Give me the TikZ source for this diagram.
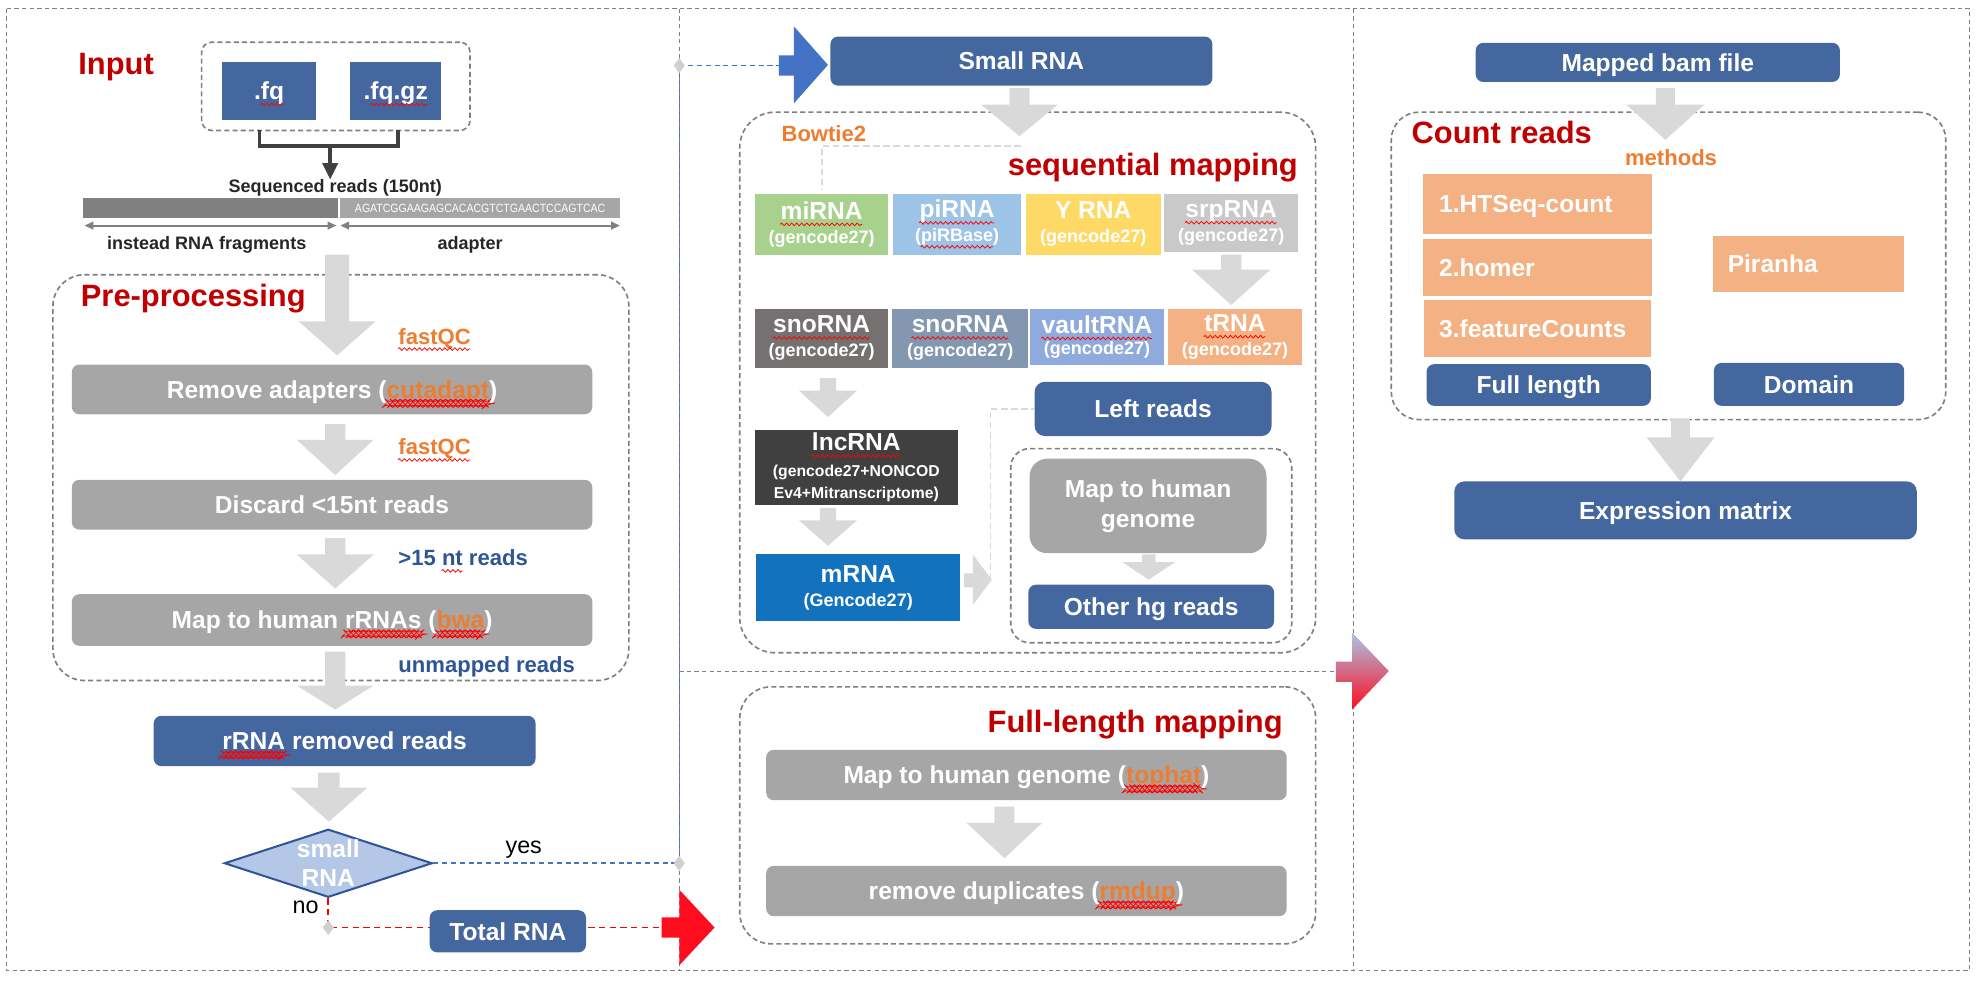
\documentclass[tikz,border=0pt]{standalone}
\usepackage{fontspec}
\setmainfont{Liberation Sans}
\usepackage{graphicx}
\usetikzlibrary{shapes.geometric,arrows.meta,decorations.pathmorphing}
\definecolor{cblue}{HTML}{44679F}
\definecolor{cgray}{HTML}{A6A6A6}
\definecolor{carrow}{HTML}{D9D9D9}
\definecolor{cframe}{HTML}{7F7F7F}
\definecolor{cred}{HTML}{C00000}
\definecolor{corange}{HTML}{ED7D31}
\definecolor{cdblue}{HTML}{2F5597}
\definecolor{cmi}{HTML}{A9D18E}
\definecolor{cpi}{HTML}{9DC3E6}
\definecolor{cy}{HTML}{FFD966}
\definecolor{csrp}{HTML}{C9C9C9}
\definecolor{csno}{HTML}{767171}
\definecolor{csnob}{HTML}{8497B0}
\definecolor{cvault}{HTML}{8FAADC}
\definecolor{ct}{HTML}{F4B183}
\definecolor{clnc}{HTML}{404040}
\definecolor{cm}{HTML}{1372BE}
\definecolor{cdiam}{HTML}{B4C7E7}
\definecolor{cbluearrow}{HTML}{4472C4}
\definecolor{credarrow}{HTML}{FF0D1F}
\definecolor{cgtop}{HTML}{A9C4E8}
\definecolor{cjoint}{HTML}{D0D0D0}
\definecolor{cdark}{HTML}{262626}
\definecolor{cbar1}{HTML}{808080}
\definecolor{cbar2}{HTML}{A6A6A6}
\definecolor{cbrack}{HTML}{404040}
\newcommand\fBox{\fontsize{19.5}{22}\selectfont\bfseries}
\newcommand\fSub{\fontsize{14.3}{16}\selectfont\bfseries}
\newcommand\fLnc{\fontsize{12.5}{14}\selectfont\bfseries}
\newcommand\fTtl{\fontsize{24.5}{28}\selectfont\bfseries}
\newcommand\fAnn{\fontsize{17.5}{20}\selectfont\bfseries}
\newcommand\fLbl{\fontsize{14.3}{16}\selectfont\bfseries}
\newcommand\fYes{\fontsize{18.5}{20}\selectfont}
\newsavebox\sqbox
\newlength\sqlen
\newcommand\sqw[1]{\sbox\sqbox{#1}\setlength\sqlen{\wd\sqbox}\usebox\sqbox\llap{\raisebox{-4pt}{\tikz[x=1pt,y=1pt,baseline=0pt]\draw[red,line width=0.6pt,line join=round,decorate,decoration={zigzag,amplitude=1.1pt,segment length=4pt}] (0,0) -- (\sqlen,0);}}}
\newcommand\org[1]{\textcolor{corange}{\sqw{#1}}}
\newcommand\darr[6]{\fill[carrow] ({#1-#5/2},#2) -- ({#1+#5/2},#2) -- ({#1+#5/2},#3) -- ({#1+#6/2},#3) -- (#1,#4) -- ({#1-#6/2},#3) -- ({#1-#5/2},#3) -- cycle;}
\begin{document}
\begin{tikzpicture}[x=1pt,y=-1pt,
  bx/.style={inner sep=0pt, text=white, font=\fBox, align=center},
  oneline/.style={text height=14pt, text depth=0pt},
  bluebox/.style={bx, oneline, fill=cblue, rounded corners=6pt},
  graybox/.style={bx, oneline, fill=cgray, rounded corners=6pt},
  sqb/.style={bx, fill=#1},
  dframe/.style={draw=cframe, dash pattern=on 4pt off 2.5pt, line width=1.3pt, rounded corners=#1, inner sep=0pt},
  outerframe/.style={draw=cframe, dash pattern=on 3.5pt off 2.5pt, line width=1pt},
  ttl/.style={text=cred, font=\fTtl, inner sep=0pt},
  ann/.style={font=\fAnn, inner sep=0pt},
  joint/.style={diamond, fill=cjoint, inner sep=0pt, minimum width=9pt, minimum height=12pt},
  lightdash/.style={draw=carrow, line width=1.5pt, dash pattern=on 5pt off 3pt},
  lbl/.style={font=\fLbl, text=cdark, inner sep=0pt, anchor=base},
  leftbox/.style={bx, oneline, fill=ct, align=left},
  bluedash/.style={cbluearrow, line width=1.3pt, dash pattern=on 4pt off 3pt},
]
\useasboundingbox (0,0) rectangle (1568,784);
% hidden part of the "yes" connector, under the divider
\coordinate (barr) at (618,52);
\coordinate (vj1) at (539,685);
\coordinate (vj3) at (539,52);
\draw[cbluearrow, line width=1pt, dash pattern=on 3.5pt off 2.5pt] (vj1) -- (vj3);
% frames
\draw[outerframe] (5,7) rectangle (1563,770);
\draw[outerframe] (539,7) -- (539,770);
\draw[outerframe] (1074,7) -- (1074,770);
\draw[outerframe] (539,533) -- (1074,533);

% ---------------- left panel
\node[ttl, anchor=base west] (tin) at (62,59.5) {Input};
\node[dframe=8pt, minimum width=213pt, minimum height=70pt] (inbox) at (266.5,68.5) {};
\node[bx, oneline, fill=cblue, minimum width=75pt, minimum height=46pt] (fq) at (213.5,72) {.\sqw{fq}};
\node[bx, oneline, fill=cblue, minimum width=72pt, minimum height=46pt] (fqgz) at (314,72) {.\sqw{fq.gz}};
\coordinate (b1) at (206,103.5);
\coordinate (b2) at (316,103.5);
\coordinate (bm) at (262,116);
\draw[cbrack, line width=2.8pt] (b1) |- (bm) -| (b2);
\node[lbl] (seq) at (266,153) {Sequenced reads (150nt)};
\draw[cbrack, line width=2.8pt, -{Triangle[length=13pt,width=12pt]}] (bm) -- (bm |- seq.north);
\node[fill=cbar1, minimum width=202pt, minimum height=16pt, inner sep=0pt] (bar1) at (167,165) {};
\node[fill=cbar2, minimum width=222pt, minimum height=16pt, inner sep=0pt, text=white] (bar2) at (381,165) {\scalebox{0.88}[1]{\fontsize{9.5}{10}\selectfont AGATCGGAAGAGCACACGTCTGAACTCCAGTCAC}};
\draw[cbar1, line width=1.6pt, {Triangle[length=7pt,width=6pt]}-{Triangle[length=7pt,width=6pt]}] (67,179) -- (267,179);
\draw[cbar1, line width=1.6pt, {Triangle[length=7pt,width=6pt]}-{Triangle[length=7pt,width=6pt]}] (270,179) -- (492,179);
\node[lbl] (lfrag) at (164,198) {instead RNA fragments};
\node[lbl] (ladp) at (373,198) {adapter};

\node[dframe=25pt, minimum width=457pt, minimum height=322pt] (prebox) at (270.5,379) {};
\darr{267.5}{202}{255}{282}{19}{61}
\node[ttl, anchor=base west] (tpre) at (64,243) {Pre-processing};
\node[ann, text=corange, anchor=base west] (qc1) at (316,273) {\sqw{fastQC}};
\node[graybox, minimum width=413pt, minimum height=39.5pt] (rmad) at (263.5,309) {Remove adapters (\org{cutadapt})};
\darr{266}{336.5}{349}{377}{16}{61}
\node[ann, text=corange, anchor=base west] (qc2) at (316,361) {\sqw{fastQC}};
\node[graybox, minimum width=413pt, minimum height=39.5pt] (disc) at (263.5,400.5) {Discard <15nt reads};
\darr{266}{427}{440}{467}{16}{61}
\node[ann, text=cdblue, anchor=base west] (gt15) at (316,449) {>15 \sqw{nt} reads};
\node[graybox, minimum width=413pt, minimum height=41pt] (maprr) at (263.5,492) {Map to human \sqw{rRNAs} (\org{bwa})};
\darr{266}{517}{544}{563}{16}{61}
\node[ann, text=cdblue, anchor=base west] (unm) at (316,534) {unmapped reads};
\node[bluebox, minimum width=303pt, minimum height=40pt] (rrem) at (273.5,588) {\sqw{rRNA} removed reads};
\darr{261}{613}{625}{652}{17}{61}
\node[diamond, fill=cdiam, draw=cdblue, line width=1.6pt, inner sep=0pt, minimum width=165pt, minimum height=54pt] (dia) at (260.5,685) {};
\node[bx] (diat) at (dia.center) {small\\[1pt]RNA};
\node[font=\fYes, anchor=base west, inner sep=0pt] (yes) at (401,677) {yes};
\node[font=\fYes, anchor=base west, inner sep=0pt] (no) at (232,725) {no};
% connectors of the decision
\coordinate (rarr) at (525,736);
\draw[bluedash] (dia.east) -- (vj1);
\draw[bluedash] (vj3) -- (barr);
\node[joint] (j1) at (vj1) {};
\node[joint] (j3) at (vj3) {};
\draw[red, line width=1.5pt, dash pattern=on 5pt off 3.5pt] (dia.south) |- (rarr);
\node[joint] (j2) at (260.5,736) {};
\node[bluebox, minimum width=124pt, minimum height=33.5pt] (tot) at (403,739) {Total RNA};
\fill[credarrow] (525,728) -- (539,728) -- (539,706) -- (567,736) -- (539,766) -- (539,744) -- (525,744) -- cycle;
\fill[cbluearrow] (618,44) -- (630,44) -- (630,21) -- (657,51.5) -- (630,82) -- (630,60) -- (618,60) -- cycle;

% ---------------- middle panel
\node[bluebox, minimum width=303pt, minimum height=39pt] (srna) at (810.5,48.5) {Small RNA};
\node[dframe=28pt, minimum width=457pt, minimum height=429pt] (seqbox) at (815.5,303.5) {};
\darr{809}{70}{83}{108}{16}{61}
\node[ann, text=corange, anchor=base west] (bt2) at (620,112.5) {Bowtie2};
\node[ttl, anchor=base east] (tseq) at (1030,139) {sequential mapping};
\node[sqb=cmi, minimum width=106pt, minimum height=48pt] (mirna) at (652,178) {\sqw{miRNA}\\[-3pt]{\fSub(gencode27)}};
\node[sqb=cpi, minimum width=101pt, minimum height=48pt] (pirna) at (759.5,178) {\sqw{piRNA}\\[-3pt]{\fSub(\sqw{piRBase})}};
\node[sqb=cy, minimum width=107pt, minimum height=48pt] (yrna) at (867.5,178) {Y RNA\\[-3pt]{\fSub(gencode27)}};
\node[sqb=csrp, minimum width=106pt, minimum height=46pt] (srp) at (977,177) {\sqw{srpRNA}\\[-3pt]{\fSub(gencode27)}};
\coordinate (bwt) at (810,116);
\draw[lightdash, shorten >=3pt] (bwt) -| (mirna.north);
\darr{977}{202}{214}{242}{16}{62}
\node[sqb=csno, minimum width=106pt, minimum height=47pt] (sno1) at (652,268.5) {\sqw{snoRNA}\\[-3pt]{\fSub(gencode27)}};
\node[sqb=csnob, minimum width=108pt, minimum height=47pt] (sno2) at (762,268.5) {\sqw{snoRNA}\\[-3pt]{\fSub(gencode27)}};
\node[sqb=cvault, minimum width=107pt, minimum height=45pt] (vault) at (870.5,267.5) {\sqw{vaultRNA}\\[-5pt]{\fSub(gencode27)}};
\node[sqb=ct, minimum width=106pt, minimum height=45pt] (trna) at (980,267.5) {\sqw{tRNA}\\[-3pt]{\fSub(gencode27)}};
\darr{657}{300}{310}{331}{13}{46}
\node[sqb=clnc, minimum width=161pt, minimum height=60pt] (lnc) at (679.5,371) {\sqw{lncRNA}\\[-2pt]{\fLnc(gencode27+NONCOD}\\[-4pt]{\fLnc Ev4+Mitranscriptome)}};
\darr{657}{403}{413}{433}{13}{46}
\node[sqb=cm, minimum width=162pt, minimum height=53pt] (mrna) at (681,466.5) {mRNA\\[-3.5pt]{\fSub(Gencode27)}};
\fill[carrow] (765,455) -- (772,455) -- (772,440) -- (787,460) -- (772,480) -- (772,466) -- (765,466) -- cycle;
\node[bluebox, rounded corners=8pt, minimum width=188pt, minimum height=43pt] (left) at (915,324.5) {Left reads};
\coordinate (mtip) at (786,460);
\draw[lightdash] (mtip) |- (left.west);
\node[dframe=15pt, minimum width=223pt, minimum height=154pt] (inbox2) at (913.5,433) {};
\node[bx, fill=cgray, rounded corners=14pt, minimum width=188pt, minimum height=75pt] (mapg) at (911,401.5) {Map to human\\[2pt]genome};
\darr{911.5}{440}{446}{460}{11}{42}
\node[bluebox, minimum width=195pt, minimum height=35pt] (other) at (913.5,481.5) {Other hg reads};

\node[dframe=25pt, minimum width=457pt, minimum height=204pt] (flbox) at (815.5,647) {};
\node[ttl, anchor=base east] (tfl) at (1018,581.5) {Full-length mapping};
\node[graybox, minimum width=413pt, minimum height=40pt] (mapt) at (814.5,615) {Map to human genome (\org{tophat})};
\darr{797}{640}{653}{681}{16}{60}
\node[graybox, minimum width=413pt, minimum height=40pt] (rmdup) at (814.5,707) {remove duplicates (\org{rmdup})};

\shade[top color=cgtop, bottom color=credarrow] (1060,525) -- (1073,525) -- (1073,502) -- (1102,532.5) -- (1073,563) -- (1073,541) -- (1060,541) -- cycle;

% ---------------- right panel
\node[bluebox, minimum width=289pt, minimum height=31pt] (bam) at (1315.5,49.5) {Mapped bam file};
\node[dframe=22pt, minimum width=440pt, minimum height=244pt] (cntbox) at (1324,211) {};
\darr{1321.5}{70}{83}{111}{15}{62}
\node[ttl, anchor=base west] (tcnt) at (1120,113.5) {Count reads};
\node[ann, text=corange, anchor=base] (meth) at (1326,131.5) {methods};
\node[leftbox, text width=156pt, inner xsep=13pt, minimum height=48pt] (hts) at (1220,162) {1.HTSeq-count};
\node[leftbox, text width=156pt, inner xsep=13pt, minimum height=45pt] (homer) at (1220,212.5) {2.homer};
\node[leftbox, text width=156pt, inner xsep=12pt, minimum height=45pt] (fc) at (1220,260.5) {3.featureCounts};
\node[leftbox, text width=128pt, inner xsep=12pt, minimum height=45pt] (pir) at (1435,209.5) {Piranha};
\node[bluebox, minimum width=178pt, minimum height=33pt] (fulll) at (1221,305.5) {Full length};
\node[bluebox, minimum width=151pt, minimum height=34pt] (dom) at (1435.5,305) {Domain};
\darr{1333.5}{332}{347}{382}{15}{54}
\node[bluebox, rounded corners=8pt, minimum width=367pt, minimum height=46pt] (expr) at (1337.5,405) {Expression matrix};
\end{tikzpicture}
\end{document}
